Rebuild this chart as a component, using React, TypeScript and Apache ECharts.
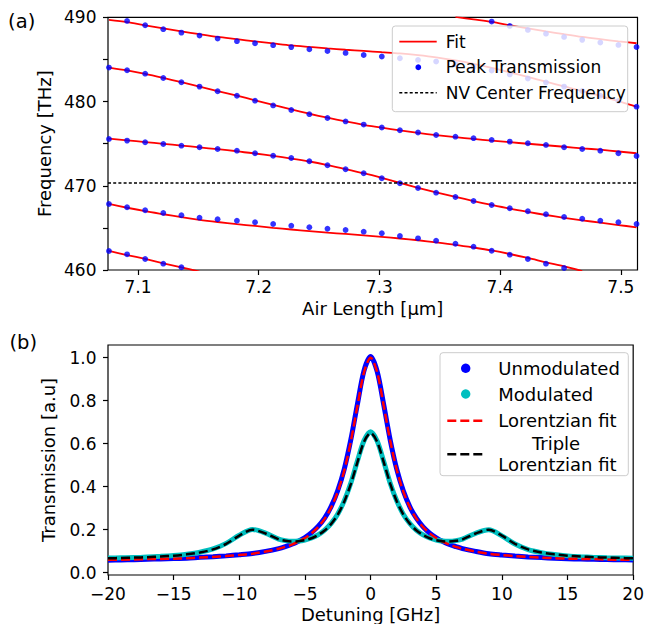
import React, { useEffect, useRef } from 'react';
import * as echarts from 'echarts';

const FONT = 'DejaVu Sans';

// ---------- Panel (a): mode frequencies vs air length ----------
const airLength = [7.076, 7.091, 7.106, 7.121, 7.136, 7.151, 7.166, 7.182, 7.197, 7.212, 7.227, 7.242, 7.257, 7.272, 7.287, 7.302, 7.317, 7.332, 7.347, 7.363, 7.378, 7.393, 7.408, 7.423, 7.438, 7.453, 7.468, 7.483, 7.498, 7.513];
const airTicks = [7.1, 7.2, 7.3, 7.4, 7.5];
const NV_FREQ = 470.4;

const peakZ = [null, null, null, null, null, null, null, null, null, null, null, null, null, null, null, null, null, null, null, null, null, 489.49, 488.98, 488.5, 488.06, 487.67, 487.32, 487.0, 486.72, 486.48];
const fitZ = [null, null, null, null, null, null, null, null, null, null, null, null, null, null, null, null, null, null, null, 490.05, 489.75, 489.45, 489.06, 488.68, 488.33, 487.99, 487.67, 487.4, 487.14, 486.92];

const peakA = [null, 489.57, 489.06, 488.59, 488.18, 487.83, 487.47, 487.17, 486.92, 486.69, 486.46, 486.21, 485.99, 485.77, 485.53, 485.35, 485.14, 484.94, 484.74, 484.41, 484.11, 483.69, 483.22, 482.74, 482.27, 481.77, 481.26, 480.7, 480.07, 479.39];
const fitA = [489.69, 489.42, 489.04, 488.68, 488.33, 487.99, 487.67, 487.4, 487.14, 486.9, 486.66, 486.48, 486.31, 486.15, 486.01, 485.86, 485.71, 485.5, 485.24, 484.88, 484.47, 483.99, 483.46, 482.92, 482.36, 481.79, 481.26, 480.67, 480.04, 479.39];

const peakB = [484.03, 483.72, 483.31, 482.8, 482.29, 481.77, 481.22, 480.69, 480.1, 479.54, 479.0, 478.5, 478.05, 477.64, 477.26, 476.92, 476.59, 476.33, 476.03, 475.83, 475.65, 475.44, 475.24, 475.05, 474.85, 474.57, 474.37, 474.17, 473.86, 473.54];
const fitB = [484.03, 483.69, 483.28, 482.8, 482.29, 481.77, 481.24, 480.7, 480.15, 479.6, 479.06, 478.55, 478.08, 477.64, 477.24, 476.89, 476.57, 476.27, 476.01, 475.77, 475.56, 475.36, 475.17, 474.99, 474.81, 474.63, 474.45, 474.28, 474.07, 473.86];

const peakC = [475.56, 475.36, 475.17, 474.96, 474.76, 474.57, 474.37, 474.17, 473.86, 473.57, 473.3, 472.91, 472.43, 471.96, 471.48, 470.89, 470.3, 469.74, 469.18, 468.67, 468.19, 467.72, 467.33, 466.97, 466.62, 466.29, 466.09, 465.86, 465.67, 465.46];
const fitC = [475.6, 475.4, 475.19, 474.98, 474.77, 474.56, 474.34, 474.1, 473.83, 473.54, 473.23, 472.88, 472.46, 471.99, 471.49, 470.93, 470.33, 469.76, 469.23, 468.69, 468.19, 467.72, 467.28, 466.89, 466.53, 466.2, 465.9, 465.62, 465.34, 465.07];

const peakD = [467.84, 467.45, 467.09, 466.77, 466.5, 466.21, 466.02, 465.86, 465.67, 465.46, 465.26, 465.07, 464.9, 464.75, 464.55, 464.36, 464.04, 463.76, 463.48, 463.12, 462.77, 462.29, 461.82, 461.31, 460.75, 460.24, null, null, null, null];
const fitD = [467.84, 467.39, 466.98, 466.62, 466.27, 465.96, 465.7, 465.45, 465.23, 465.01, 464.81, 464.62, 464.44, 464.28, 464.11, 463.93, 463.74, 463.53, 463.28, 462.99, 462.67, 462.32, 461.9, 461.43, 460.91, 460.42, 459.88, null, null, null];

const peakE = [462.26, 461.86, 461.31, 460.75, 460.32, null, null, null, null, null, null, null, null, null, null, null, null, null, null, null, null, null, null, null, null, null, null, null, null, null];
const fitE = [462.26, 461.78, 461.31, 460.8, 460.32, 459.82, null, null, null, null, null, null, null, null, null, null, null, null, null, null, null, null, null, null, null, null, null, null, null, null];

// ---------- Panel (b): transmission vs detuning ----------
const detuning = [-20, -19, -18, -17, -16, -15, -14, -13, -12, -11, -10, -9, -8, -7, -6.5, -6, -5.5, -5, -4.5, -4, -3.5, -3, -2.5, -2, -1.5, -1, -0.5, 0, 0.5, 1, 1.5, 2, 2.5, 3, 3.5, 4, 4.5, 5, 5.5, 6, 6.5, 7, 8, 9, 10, 11, 12, 13, 14, 15, 16, 17, 18, 19, 20];
const unmodulated = [0.058, 0.059, 0.06, 0.062, 0.064, 0.066, 0.067, 0.071, 0.074, 0.078, 0.083, 0.089, 0.099, 0.112, 0.121, 0.132, 0.146, 0.163, 0.186, 0.215, 0.254, 0.308, 0.382, 0.483, 0.62, 0.785, 0.94, 1.005, 0.936, 0.781, 0.615, 0.479, 0.379, 0.305, 0.252, 0.213, 0.184, 0.162, 0.145, 0.131, 0.121, 0.112, 0.099, 0.088, 0.082, 0.077, 0.073, 0.07, 0.067, 0.065, 0.063, 0.062, 0.061, 0.06, 0.059];
const modulated = [0.068, 0.069, 0.07, 0.073, 0.076, 0.08, 0.086, 0.095, 0.11, 0.136, 0.174, 0.201, 0.184, 0.156, 0.149, 0.146, 0.147, 0.152, 0.161, 0.176, 0.198, 0.229, 0.273, 0.335, 0.418, 0.52, 0.614, 0.655, 0.612, 0.517, 0.415, 0.333, 0.271, 0.228, 0.197, 0.176, 0.161, 0.152, 0.147, 0.146, 0.149, 0.156, 0.183, 0.199, 0.171, 0.133, 0.107, 0.093, 0.084, 0.078, 0.074, 0.071, 0.069, 0.068, 0.067];
const lorentzFit = [0.06, 0.06, 0.061, 0.063, 0.064, 0.065, 0.067, 0.07, 0.073, 0.077, 0.082, 0.088, 0.098, 0.111, 0.12, 0.13, 0.144, 0.161, 0.183, 0.212, 0.25, 0.303, 0.376, 0.476, 0.612, 0.776, 0.932, 1.0, 0.932, 0.776, 0.612, 0.476, 0.376, 0.303, 0.25, 0.212, 0.183, 0.161, 0.144, 0.13, 0.12, 0.111, 0.098, 0.088, 0.082, 0.077, 0.073, 0.07, 0.067, 0.065, 0.064, 0.063, 0.061, 0.06, 0.06];
const tripleFit = [0.067, 0.068, 0.07, 0.072, 0.075, 0.079, 0.085, 0.094, 0.108, 0.134, 0.172, 0.2, 0.182, 0.155, 0.148, 0.145, 0.146, 0.151, 0.16, 0.175, 0.196, 0.227, 0.27, 0.331, 0.413, 0.514, 0.609, 0.65, 0.609, 0.514, 0.413, 0.331, 0.27, 0.227, 0.196, 0.175, 0.16, 0.151, 0.146, 0.145, 0.148, 0.155, 0.182, 0.2, 0.172, 0.134, 0.108, 0.094, 0.085, 0.079, 0.075, 0.072, 0.07, 0.068, 0.067];
const transTicks = [0, 0.2, 0.4, 0.6, 0.8, 1.0];

const pairs = (xs: number[], ys: (number | null)[]) =>
  xs.map((x, i) => [x, ys[i]]).filter((p) => p[1] !== null && p[1] !== undefined);

const minusFmt = (v: number) => (v < 0 ? '\u2212' + Math.abs(v) : String(v));

const axisCommon = {
  axisLine: { show: false, onZero: false },
  splitLine: { show: false },
  axisTick: { show: true, inside: false, length: 5, lineStyle: { color: '#000', width: 1.2 } },
  nameTextStyle: { fontSize: 18, color: '#000', fontFamily: FONT },
};

const labelCommon = { fontSize: 17, color: '#000', fontFamily: FONT };

export default function App() {
  const ref = useRef<HTMLDivElement>(null);

  useEffect(() => {
    if (!ref.current) return;
    const chart = echarts.init(ref.current, undefined, { renderer: 'svg' });

    const fitLine = (ys: (number | null)[]) => ({
      type: 'line',
      xAxisIndex: 0,
      yAxisIndex: 0,
      data: pairs(airLength, ys),
      symbol: 'none',
      smooth: 0.3,
      lineStyle: { color: '#ff0000', width: 1.8 },
      z: 2,
      silent: true,
    });
    const dots = (ys: (number | null)[]) => ({
      type: 'scatter',
      xAxisIndex: 0,
      yAxisIndex: 0,
      data: pairs(airLength, ys),
      symbolSize: 5.8,
      itemStyle: { color: '#0000ff' },
      z: 3,
      silent: true,
    });

    const txt = (text: string, x: number, y: number, size: number, align = 'left') => ({
      type: 'text', z: 21, x, y,
      style: { text, fontSize: size, fontFamily: FONT, fill: '#000', align, verticalAlign: 'middle' },
    });

    const option: any = {
      animation: false,
      backgroundColor: '#ffffff',
      textStyle: { fontFamily: FONT },
      grid: [
        { left: 108, top: 17.3, width: 529.5, height: 252.7, show: true, borderColor: '#000', borderWidth: 1.2, backgroundColor: 'transparent' },
        { left: 108, top: 345, width: 529.5, height: 230, show: true, borderColor: '#000', borderWidth: 1.2, backgroundColor: 'transparent' },
      ],
      xAxis: [
        {
          ...axisCommon,
          type: 'value',
          gridIndex: 0,
          min: 7.0752,
          max: 7.5138,
          axisTick: { ...axisCommon.axisTick, customValues: airTicks },
          axisLabel: { ...labelCommon, margin: 8, customValues: airTicks, formatter: (v: number) => v.toFixed(1) },
          name: 'Air Length [\u03bcm]',
          nameLocation: 'middle',
          nameGap: 29,
        },
        {
          ...axisCommon,
          type: 'value',
          gridIndex: 1,
          min: -20,
          max: 20,
          interval: 5,
          axisLabel: { ...labelCommon, margin: 10, formatter: minusFmt },
          name: 'Detuning [GHz]',
          nameLocation: 'middle',
          nameGap: 30,
        },
      ],
      yAxis: [
        {
          ...axisCommon,
          type: 'value',
          gridIndex: 0,
          min: 460,
          max: 490,
          interval: 5,
          axisLabel: { ...labelCommon, margin: 11.5, formatter: (v: number) => (v % 10 === 0 ? String(v) : '') },
          name: 'Frequency [THz]',
          nameLocation: 'middle',
          nameGap: 51,
        },
        {
          ...axisCommon,
          type: 'value',
          gridIndex: 1,
          min: -0.011,
          max: 1.059,
          axisTick: { ...axisCommon.axisTick, customValues: transTicks },
          axisLabel: { ...labelCommon, margin: 11.5, customValues: transTicks, formatter: (v: number) => v.toFixed(1) },
          name: 'Transmission [a.u]',
          nameLocation: 'middle',
          nameGap: 51,
        },
      ],
      series: [
        fitLine(fitZ), fitLine(fitA), fitLine(fitB), fitLine(fitC), fitLine(fitD), fitLine(fitE),
        dots(peakZ), dots(peakA), dots(peakB), dots(peakC), dots(peakD), dots(peakE),
        {
          type: 'line',
          xAxisIndex: 0,
          yAxisIndex: 0,
          data: [],
          silent: true,
          markLine: {
            silent: true,
            symbol: ['none', 'none'],
            label: { show: false },
            lineStyle: { color: '#000', width: 1.5, type: [3, 2.2] },
            data: [{ yAxis: NV_FREQ }],
          },
          z: 2,
        },
        {
          type: 'line', xAxisIndex: 1, yAxisIndex: 1, data: pairs(detuning, unmodulated),
          symbol: 'none', smooth: 0.3, lineStyle: { color: '#0000ff', width: 5 }, z: 2, silent: true,
        },
        {
          type: 'line', xAxisIndex: 1, yAxisIndex: 1, data: pairs(detuning, modulated),
          symbol: 'none', smooth: 0.3, lineStyle: { color: '#00bfbf', width: 5 }, z: 3, silent: true,
        },
        {
          type: 'line', xAxisIndex: 1, yAxisIndex: 1, data: pairs(detuning, lorentzFit),
          symbol: 'none', smooth: 0.3, lineStyle: { color: '#ff0000', width: 2.5, type: [9, 4] }, z: 4, silent: true,
        },
        {
          type: 'line', xAxisIndex: 1, yAxisIndex: 1, data: pairs(detuning, tripleFit),
          symbol: 'none', smooth: 0.3, lineStyle: { color: '#000000', width: 2.5, type: [9, 4] }, z: 5, silent: true,
        },
      ],
      graphic: [
        txt('(a)', 21.7, 21, 19.5, 'center'),
        txt('(b)', 23.3, 342, 19.5, 'center'),
        // legend (a)
        { type: 'rect', z: 20, shape: { x: 392.3, y: 26, width: 235.4, height: 85.7, r: 3 }, style: { fill: 'rgba(255,255,255,0.8)', stroke: '#cccccc', lineWidth: 1 } },
        { type: 'line', z: 21, shape: { x1: 399.3, y1: 41.7, x2: 436.7, y2: 41.7 }, style: { stroke: '#ff0000', lineWidth: 1.8 } },
        { type: 'circle', z: 21, shape: { cx: 418.3, cy: 67.3, r: 2.9 }, style: { fill: '#0000ff' } },
        { type: 'line', z: 21, shape: { x1: 399.3, y1: 92.7, x2: 436.7, y2: 92.7 }, style: { stroke: '#000', lineWidth: 1.5, lineDash: [3, 2.2] } },
        txt('Fit', 445.7, 41.7, 17),
        txt('Peak Transmission', 445.7, 67.3, 17),
        txt('NV Center Frequency', 445.7, 92.7, 17),
        // legend (b)
        { type: 'rect', z: 20, shape: { x: 440, y: 352.7, width: 188.3, height: 123, r: 3 }, style: { fill: 'rgba(255,255,255,0.8)', stroke: '#cccccc', lineWidth: 1 } },
        { type: 'circle', z: 21, shape: { cx: 465.7, cy: 368.3, r: 4.7 }, style: { fill: '#0000ff' } },
        { type: 'circle', z: 21, shape: { cx: 465.7, cy: 394, r: 4.7 }, style: { fill: '#00bfbf' } },
        { type: 'line', z: 21, shape: { x1: 447.3, y1: 420.7, x2: 484, y2: 420.7 }, style: { stroke: '#ff0000', lineWidth: 2.5, lineDash: [9, 4] } },
        { type: 'line', z: 21, shape: { x1: 447.3, y1: 454.3, x2: 484, y2: 454.3 }, style: { stroke: '#000000', lineWidth: 2.5, lineDash: [9, 4] } },
        txt('Unmodulated', 498.3, 368.3, 18),
        txt('Modulated', 498.3, 394, 18),
        txt('Lorentzian fit', 498.3, 420.7, 18),
        txt('Triple', 556, 443.5, 18, 'center'),
        txt('Lorentzian fit', 498.3, 464.8, 18),
      ],
    };

    chart.setOption(option);
    return () => chart.dispose();
  }, []);

  return (
    <div
      ref={ref}
      style={{ position: 'fixed', left: 0, top: 0, width: 647, height: 624, background: '#fff' }}
    />
  );
}
